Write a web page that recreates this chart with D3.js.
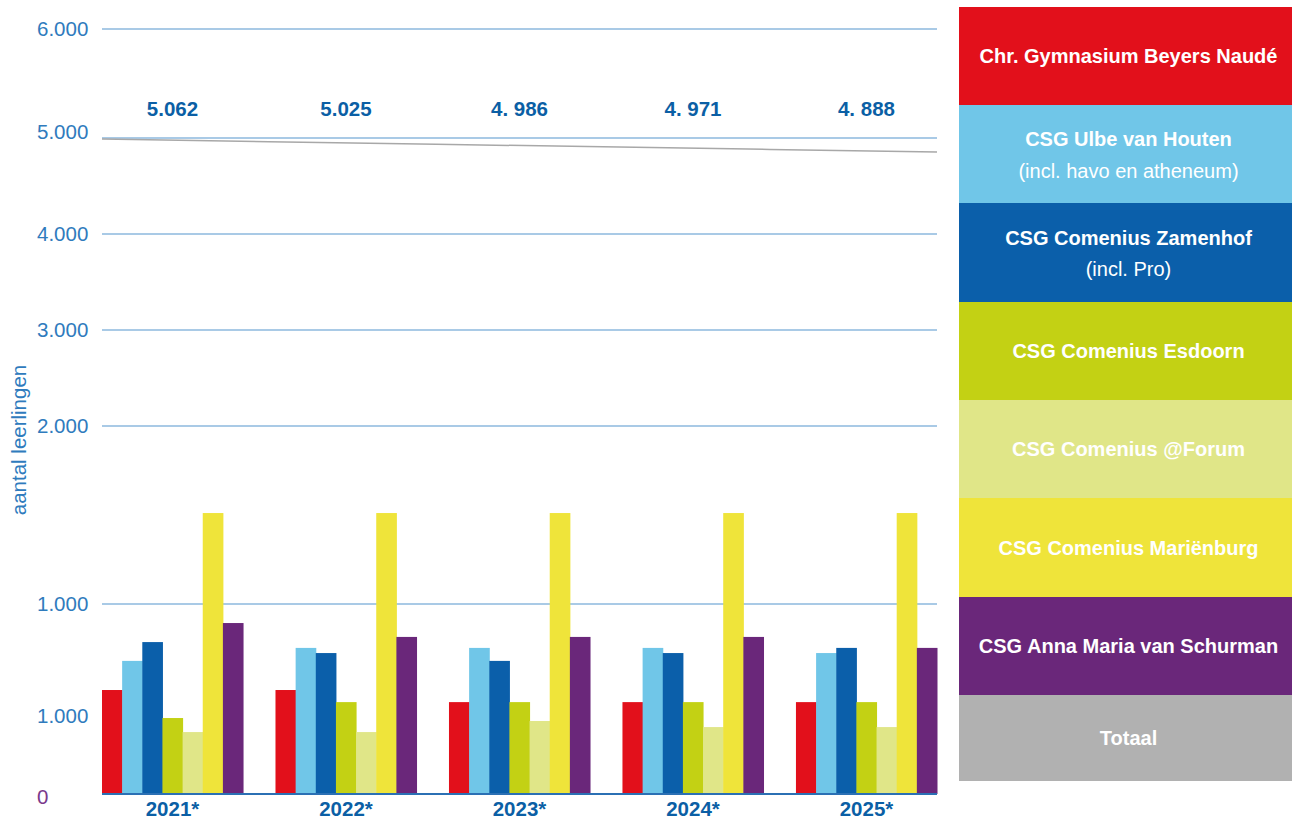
<!DOCTYPE html>
<html>
<head>
<meta charset="utf-8">
<script src="https://cdn.jsdelivr.net/npm/d3@7"></script>
<style>
  body { margin: 0; background: #fff; }
  svg { display: block; font-family: "Liberation Sans", Arial, sans-serif; }
</style>
</head>
<body>
<div id="graphicContainer"></div>
<script>

// categories and series

var years = ["2021*", "2022*", "2023*", "2024*", "2025*"];

var schools = ["Chr. Gymnasium Beyers Naudé", "CSG Ulbe van Houten", "CSG Comenius Zamenhof",
  "CSG Comenius Esdoorn", "CSG Comenius @Forum", "CSG Comenius Mariënburg", "CSG Anna Maria van Schurman"];

var beyersNaude = [616, 616, 562, 562, 562];
var ulbeVanHouten = [746, 804, 804, 804, 781];
var zamenhof = [830, 781, 746, 781, 804];
var esdoorn = [487, 562, 562, 562, 562];
var forum = [397, 397, 468, 429, 429];
var marienburg = [1511, 1511, 1511, 1511, 1511];
var schurman = [915, 853, 853, 853, 804];

// totals as printed above the groups
var totalLabels = ["5.062", "5.025", "4. 986", "4. 971", "4. 888"];

// grey "Totaal" trend line, read at the group boundaries
var totaalTrend = [4990, 4962, 4935, 4908, 4881, 4854];

// y axis (broken scale as in the original)
var tickValues = [0, 500, 1000, 2000, 3000, 4000, 5000, 6000];
var tickLabels = ["0", "1.000", "1.000", "2.000", "3.000", "4.000", "5.000", "6.000"];
var gridValues = [1000, 2000, 3000, 4000, 5000, 6000];

// legend
var legendItems = [
  {name: "Chr. Gymnasium Beyers Naudé", sub: null},
  {name: "CSG Ulbe van Houten", sub: "(incl. havo en atheneum)"},
  {name: "CSG Comenius Zamenhof", sub: "(incl. Pro)"},
  {name: "CSG Comenius Esdoorn", sub: null},
  {name: "CSG Comenius @Forum", sub: null},
  {name: "CSG Comenius Mariënburg", sub: null},
  {name: "CSG Anna Maria van Schurman", sub: null},
  {name: "Totaal", sub: null}
];

var colour_choices = ["#e2101b", "#70c6e8", "#0b5faa", "#c3d114", "#e0e688", "#efe43a", "#6a277a", "#b1b1b1"];

var series = [beyersNaude, ulbeVanHouten, zamenhof, esdoorn, forum, marienburg, schurman];

function draw_chart() {

    var width = 1292, height = 819;
    var margin = {top: 29, right: 355, bottom: 25, left: 102};

    d3.select("#graphicContainer svg").remove();

    var svg = d3.select("#graphicContainer").append("svg")
        .attr("width", width)
        .attr("height", height);

    var plotRight = width - margin.right;

    // x scales

    var x0 = d3.scaleBand()
        .domain(years)
        .range([margin.left, plotRight])
        .paddingInner(0.187)
        .paddingOuter(0);

    var x1 = d3.scaleBand()
        .domain(schools)
        .range([0, x0.bandwidth()])
        .padding(0);

    // piecewise y scale

    var y = d3.scaleLinear()
        .domain([0, 500, 1000, 2000, 3000, 4000, 5000, 6000])
        .range([794, 716, 604, 426, 330, 234, 138, 29]);

    var color = d3.scaleOrdinal()
        .domain(schools.concat(["Totaal"]))
        .range(colour_choices);

    // gridlines

    svg.append("g")
        .selectAll("line")
        .data(gridValues)
        .enter()
        .append("line")
        .attr("x1", margin.left)
        .attr("x2", plotRight)
        .attr("y1", d => y(d))
        .attr("y2", d => y(d))
        .attr("stroke", "#8db8de")
        .attr("stroke-width", 1.5);

    // y tick labels

    svg.append("g")
        .selectAll("text")
        .data(tickValues)
        .enter()
        .append("text")
        .attr("x", 37)
        .attr("y", (d, i) => d === 0 ? y(d) + 3 : (d === 5000 ? y(d) - 6 : y(d)))
        .attr("dy", "0.35em")
        .attr("font-size", 20.5)
        .attr("fill", d => d === 0 ? "#7a3a8c" : "#2f7bbd")
        .text((d, i) => tickLabels[i]);

    // y axis title

    svg.append("text")
        .attr("transform", "translate(26,440) rotate(-90)")
        .attr("text-anchor", "middle")
        .attr("font-size", 20.5)
        .attr("fill", "#2f7bbd")
        .text("aantal leerlingen");

    // grey Totaal trend line

    var xt = d3.scaleLinear()
        .domain([0, totaalTrend.length - 1])
        .range([margin.left, plotRight]);

    svg.append("path")
        .datum(totaalTrend)
        .attr("fill", "none")
        .attr("stroke", "#a8a8a8")
        .attr("stroke-width", 1.5)
        .attr("d", d3.line().x((d, i) => xt(i)).y(d => y(d)));

    // bars

    svg.append("g")
        .selectAll("g")
        .data(years)
        .enter()
        .append("g")
        .attr("transform", d => `translate(${x0(d)},0)`)
        .selectAll("rect")
        .data((d, yi) => schools.map((s, si) => ({key: s, value: series[si][yi]})))
        .enter()
        .append("rect")
        .attr("x", d => x1(d.key))
        .attr("y", d => y(d.value))
        .attr("width", x1.bandwidth() + 0.5)
        .attr("height", d => y(0) - y(d.value))
        .attr("fill", d => color(d.key));

    // baseline

    svg.append("line")
        .attr("x1", margin.left)
        .attr("x2", plotRight)
        .attr("y1", y(0))
        .attr("y2", y(0))
        .attr("stroke", "#2b70b4")
        .attr("stroke-width", 2);

    // total labels

    svg.append("g")
        .selectAll("text")
        .data(years)
        .enter()
        .append("text")
        .attr("x", d => x0(d) + x0.bandwidth() / 2)
        .attr("y", 109)
        .attr("dy", "0.35em")
        .attr("text-anchor", "middle")
        .attr("font-size", 20.5)
        .attr("font-weight", "bold")
        .attr("fill", "#0b5fa5")
        .text((d, i) => totalLabels[i]);

    // x category labels

    svg.append("g")
        .selectAll("text")
        .data(years)
        .enter()
        .append("text")
        .attr("x", d => x0(d) + x0.bandwidth() / 2)
        .attr("y", 809)
        .attr("dy", "0.35em")
        .attr("text-anchor", "middle")
        .attr("font-size", 20.5)
        .attr("font-weight", "bold")
        .attr("fill", "#0b5fa5")
        .text(d => d);

    // legend blocks

    var legendX = 959, legendW = width - legendX;
    var rowTops = [7, 105, 203, 302, 400, 498, 597, 695, 781];

    var lg = svg.append("g")
        .selectAll("g")
        .data(legendItems)
        .enter()
        .append("g")
        .attr("transform", (d, i) => `translate(${legendX},${rowTops[i]})`);

    lg.append("rect")
        .attr("width", legendW)
        .attr("height", (d, i) => rowTops[i + 1] - rowTops[i])
        .attr("fill", d => color(d.name));

    lg.append("text")
        .attr("x", legendW / 2 + 3)
        .attr("y", (d, i) => d.sub ? (rowTops[i + 1] - rowTops[i]) / 2 - 15 : (rowTops[i + 1] - rowTops[i]) / 2)
        .attr("dy", "0.35em")
        .attr("text-anchor", "middle")
        .attr("font-size", 20)
        .attr("font-weight", "bold")
        .attr("fill", "#fff")
        .text(d => d.name);

    lg.filter(d => d.sub)
        .append("text")
        .attr("x", legendW / 2 + 3)
        .attr("y", 66)
        .attr("dy", "0.35em")
        .attr("text-anchor", "middle")
        .attr("font-size", 20)
        .attr("fill", "#fff")
        .text(d => d.sub);
}

draw_chart();

</script>
</body>
</html>
